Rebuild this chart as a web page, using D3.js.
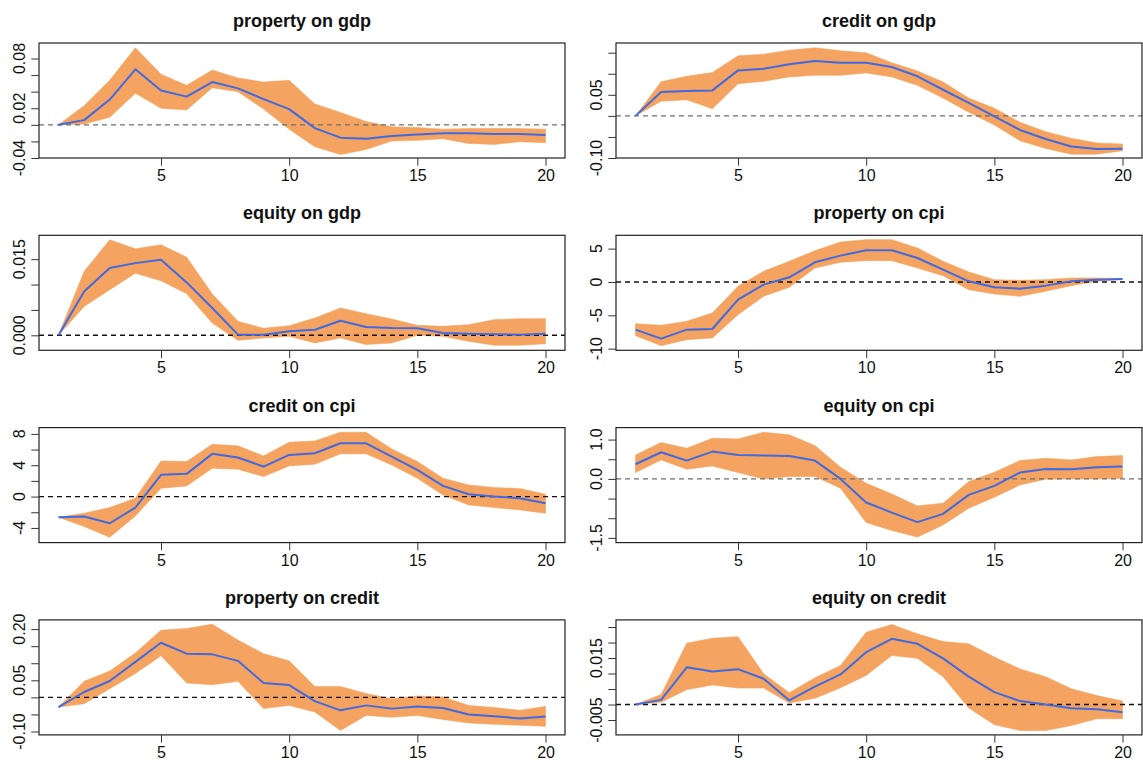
<!DOCTYPE html>
<html lang="en">
  <head>
    <meta charset="UTF-8" />
    <title>Impulse responses</title>
    <script src="https://cdn.jsdelivr.net/npm/d3@7"></script>
    <style>
      body { margin: 0; background: #fff; }
      svg { display: block; font-family: "Liberation Sans", Arial, sans-serif; }
    </style>
  </head>
  <body>
    <div id="main-div"></div>
    <script>
      const steps = d3.range(1, 21);
      const xTicks = [5, 10, 15, 20];

      // property on gdp
      const propGdpMid = [0, 0.0057, 0.0305, 0.067, 0.0415, 0.034, 0.0516, 0.044, 0.031, 0.019, -0.004, -0.0155, -0.0167, -0.0134, -0.0118, -0.0102, -0.0102, -0.011, -0.011, -0.0122];
      const propGdpHi = [0, 0.023, 0.0537, 0.093, 0.061, 0.0476, 0.066, 0.0565, 0.0516, 0.0537, 0.0252, 0.015, 0.004, -0.0024, -0.0033, -0.0053, -0.0045, -0.0045, -0.0045, -0.0053];
      const propGdpLo = [0, 0.001, 0.009, 0.038, 0.02, 0.018, 0.0447, 0.04, 0.019, -0.0053, -0.0264, -0.0358, -0.0297, -0.0195, -0.0187, -0.0167, -0.0224, -0.0236, -0.0203, -0.0215];
      const propGdpTicks = [0.08, 0.06, 0.04, 0.02, 0, -0.02, -0.04];
      const propGdpLabels = ["0.08", "0.02", "-0.04"];

      // credit on gdp
      const credGdpMid = [0, 0.0565, 0.059, 0.0605, 0.108, 0.112, 0.1226, 0.13, 0.126, 0.126, 0.116, 0.094, 0.062, 0.031, -0.001, -0.0334, -0.055, -0.0725, -0.0788, -0.078];
      const credGdpHi = [0, 0.081, 0.094, 0.1027, 0.1425, 0.1465, 0.156, 0.1616, 0.1545, 0.1497, 0.126, 0.1067, 0.0804, 0.0422, 0.0183, -0.0151, -0.0374, -0.0533, -0.0645, -0.0669];
      const credGdpLo = [0, 0.035, 0.038, 0.0167, 0.0764, 0.082, 0.0924, 0.0963, 0.0963, 0.102, 0.0924, 0.0725, 0.0422, 0.0088, -0.0215, -0.059, -0.0772, -0.0908, -0.0908, -0.0828];
      const credGdpTicks = [0.15, 0.1, 0.05, 0, -0.05, -0.1];
      const credGdpLabels = ["0.05", "-0.10"];

      // equity on gdp
      const eqGdpMid = [0, 0.00865, 0.01324, 0.01422, 0.01488, 0.01042, 0.00537, 0.00013, 0.00013, 0.00079, 0.0011, 0.00288, 0.00164, 0.00144, 0.00138, 0.00046, 0.00033, 0.0002, 0.00013, 0.00033];
      const eqGdpHi = [0, 0.01258, 0.0188, 0.01704, 0.01782, 0.0154, 0.00813, 0.00275, 0.00138, 0.0019, 0.0034, 0.00537, 0.00426, 0.00321, 0.00197, 0.00177, 0.0021, 0.00308, 0.00328, 0.00328];
      const eqGdpLo = [0, 0.0057, 0.00898, 0.01225, 0.01075, 0.00819, 0.00242, -0.00098, -0.00052, -0.0002, -0.0015, -0.00052, -0.00183, -0.0015, 0, -0.0002, -0.00118, -0.00197, -0.00197, -0.00164];
      const eqGdpTicks = [0.015, 0.01, 0.005, 0];
      const eqGdpLabels = ["0.015", "0.000"];

      // property on cpi
      const propCpiMid = [-7.15, -8.5, -7.15, -7.05, -2.65, -0.4, 0.7, 2.95, 3.95, 4.75, 4.75, 3.6, 1.85, 0.1, -0.8, -1.0, -0.55, 0.1, 0.35, 0.45];
      const propCpiHi = [-6.25, -6.5, -5.9, -4.65, -0.65, 1.6, 3.1, 4.7, 6.0, 6.35, 6.35, 5.1, 3.1, 1.5, 0.35, 0.25, 0.35, 0.6, 0.6, 0.5];
      const propCpiLo = [-8.05, -9.55, -8.65, -8.4, -4.9, -2.15, -0.8, 2.1, 2.95, 3.2, 3.2, 2.1, 0.95, -1.15, -1.8, -2.15, -1.4, -0.55, 0.1, 0.4];
      const propCpiTicks = [5, 0, -5, -10];
      const propCpiLabels = ["5", "0", "-5", "-10"];

      // credit on cpi
      const credCpiMid = [-2.64, -2.55, -3.4, -1.4, 2.77, 2.9, 5.45, 4.98, 3.83, 5.32, 5.53, 6.8, 6.8, 5.1, 3.4, 1.36, 0.3, 0, -0.21, -0.85];
      const credCpiHi = [-2.64, -2.13, -1.4, -0.21, 4.55, 4.47, 6.68, 6.47, 5.19, 6.94, 7.1, 8.2, 8.2, 6.08, 4.47, 2.34, 1.49, 1.15, 1.02, 0.3];
      const credCpiLo = [-2.64, -3.83, -5.19, -2.47, 1.06, 1.36, 3.62, 3.49, 2.55, 3.91, 4.13, 5.45, 5.45, 4.04, 2.34, 0.21, -1.06, -1.4, -1.7, -2.13];
      const credCpiTicks = [8, 6, 4, 2, 0, -2, -4];
      const credCpiLabels = ["8", "4", "0", "-4"];

      // equity on cpi
      const eqCpiMid = [0.373, 0.678, 0.466, 0.695, 0.61, 0.593, 0.585, 0.466, 0, -0.6, -0.856, -1.1, -0.89, -0.407, -0.178, 0.161, 0.254, 0.246, 0.297, 0.314];
      const eqCpiHi = [0.61, 0.924, 0.78, 1.034, 1.017, 1.186, 1.12, 0.847, 0.297, -0.11, -0.381, -0.686, -0.619, -0.068, 0.17, 0.466, 0.525, 0.483, 0.568, 0.593];
      const eqCpiLo = [0.161, 0.483, 0.246, 0.33, 0.161, 0, 0.059, 0.059, -0.237, -1.11, -1.31, -1.48, -1.17, -0.746, -0.466, -0.153, -0.008, 0, 0, 0.017];
      const eqCpiTicks = [1, 0.5, 0, -0.5, -1, -1.5];
      const eqCpiLabels = ["1.0", "0.0", "-1.5"];

      // property on credit
      const propCredMid = [-0.0284, 0.0157, 0.048, 0.104, 0.16, 0.128, 0.126, 0.107, 0.042, 0.036, -0.011, -0.038, -0.0235, -0.033, -0.0265, -0.031, -0.05, -0.055, -0.062, -0.056];
      const propCredHi = [-0.0284, 0.047, 0.077, 0.13, 0.197, 0.202, 0.214, 0.168, 0.128, 0.107, 0.032, 0.032, 0.011, -0.004, 0.004, 0.001, -0.0235, -0.03, -0.038, -0.0265];
      const propCredLo = [-0.0284, -0.0186, 0.0255, 0.07, 0.122, 0.042, 0.037, 0.047, -0.033, -0.0235, -0.043, -0.097, -0.053, -0.058, -0.053, -0.065, -0.075, -0.079, -0.082, -0.085];
      const propCredTicks = [0.2, 0.15, 0.1, 0.05, 0, -0.05, -0.1];
      const propCredLabels = ["0.20", "0.05", "-0.10"];

      // equity on credit
      const eqCredMid = [0, 0.0015, 0.012, 0.01065, 0.0114, 0.0083, 0.0013, 0.0058, 0.0097, 0.0169, 0.0212, 0.0196, 0.0149, 0.009, 0.004, 0.0011, 0, -0.0012, -0.0015, -0.0025];
      const eqCredHi = [0, 0.0032, 0.0198, 0.0214, 0.0219, 0.0099, 0.0038, 0.0086, 0.0126, 0.0233, 0.0258, 0.0228, 0.0203, 0.0196, 0.0153, 0.0115, 0.009, 0.0051, 0.0029, 0.0011];
      const eqCredLo = [0, 0.00075, 0.0048, 0.0063, 0.0053, 0.0053, 0.0005, 0.002, 0.0054, 0.0094, 0.0158, 0.0149, 0.009, -0.0011, -0.0065, -0.0084, -0.0084, -0.0068, -0.0046, -0.0046];
      const eqCredTicks = [0.025, 0.02, 0.015, 0.01, 0.005, 0, -0.005];
      const eqCredLabels = ["0.015", "-0.005"];

      const panels = [
        { title: "property on gdp", mid: propGdpMid, lo: propGdpLo, hi: propGdpHi, ticks: propGdpTicks, labels: propGdpLabels, ylim: [-0.04, 0.0987], zero: "#6e6e6e" },
        { title: "credit on gdp", mid: credGdpMid, lo: credGdpLo, hi: credGdpHi, ticks: credGdpTicks, labels: credGdpLabels, ylim: [-0.1, 0.173], zero: "#6e6e6e" },
        { title: "equity on gdp", mid: eqGdpMid, lo: eqGdpLo, hi: eqGdpHi, ticks: eqGdpTicks, labels: eqGdpLabels, ylim: [-0.00295, 0.0197], zero: "#111" },
        { title: "property on cpi", mid: propCpiMid, lo: propCpiLo, hi: propCpiHi, ticks: propCpiTicks, labels: propCpiLabels, ylim: [-10.25, 7.0], zero: "#111" },
        { title: "credit on cpi", mid: credCpiMid, lo: credCpiLo, hi: credCpiHi, ticks: credCpiTicks, labels: credCpiLabels, ylim: [-5.87, 8.8], zero: "#111" },
        { title: "equity on cpi", mid: eqCpiMid, lo: eqCpiLo, hi: eqCpiHi, ticks: eqCpiTicks, labels: eqCpiLabels, ylim: [-1.62, 1.305], zero: "#6e6e6e" },
        { title: "property on credit", mid: propCredMid, lo: propCredLo, hi: propCredHi, ticks: propCredTicks, labels: propCredLabels, ylim: [-0.11, 0.227], zero: "#111" },
        { title: "equity on credit", mid: eqCredMid, lo: eqCredLo, hi: eqCredHi, ticks: eqCredTicks, labels: eqCredLabels, ylim: [-0.0098, 0.0273], zero: "#111" },
      ];

      let width = 1143;
      let height = 760;
      let boxW = 526;
      let boxH = 115;
      let colLeft = [39, 616];
      let rowTop = 43;
      let rowStep = 192.3;
      let tickLen = 7.7;

      let svg = d3
        .select("#main-div")
        .append("svg")
        .attr("width", width)
        .attr("height", height)
        .style("background-color", "#fff");

      panels.forEach((p, i) => {
        let left = colLeft[i % 2];
        let top = rowTop + Math.floor(i / 2) * rowStep;

        let g = svg.append("g").attr("transform", "translate(" + left + "," + top + ")");

        //R style axis range: 4% padding on each side
        let x = d3.scaleLinear().domain([0.24, 20.76]).range([0, boxW]);
        let y = d3.scaleLinear().domain(p.ylim).range([boxH, 0]);

        let data = steps.map((s, k) => ({ s: s, mid: p.mid[k], lo: p.lo[k], hi: p.hi[k] }));

        //confidence band
        let band = d3
          .area()
          .x((d) => x(d.s))
          .y0((d) => y(d.lo))
          .y1((d) => y(d.hi));
        g.append("path")
          .datum(data)
          .attr("d", band)
          .attr("fill", "#f4a460")
          .attr("stroke", "#f4a460")
          .attr("stroke-width", 0.6);

        //zero line
        g.append("line")
          .attr("x1", 0)
          .attr("x2", boxW)
          .attr("y1", y(0))
          .attr("y2", y(0))
          .attr("stroke", p.zero)
          .attr("stroke-width", 1.4)
          .attr("stroke-dasharray", "5,4");

        //point estimate
        let line = d3
          .line()
          .x((d) => x(d.s))
          .y((d) => y(d.mid));
        g.append("path")
          .datum(data)
          .attr("d", line)
          .attr("fill", "none")
          .attr("stroke", "#4169e1")
          .attr("stroke-width", 2)
          .attr("stroke-linejoin", "round");

        //box
        g.append("rect")
          .attr("x", 0)
          .attr("y", 0)
          .attr("width", boxW)
          .attr("height", boxH)
          .attr("fill", "none")
          .attr("stroke", "#222")
          .attr("stroke-width", 1.2);

        //x axis
        let xa = g
          .append("g")
          .attr("transform", "translate(0," + boxH + ")")
          .call(d3.axisBottom(x).tickValues(xTicks).tickSize(tickLen).tickPadding(4));
        xa.select(".domain").remove();
        xa.selectAll("line").attr("stroke", "#333");
        xa.selectAll("text")
          .attr("fill", "#111")
          .style("font-size", "16px")
          .style("font-family", "Liberation Sans, Arial, sans-serif");

        //y axis, labels drawn rotated like R
        let ya = g.append("g").call(d3.axisLeft(y).tickValues(p.ticks).tickSize(tickLen).tickFormat(""));
        ya.select(".domain").remove();
        ya.selectAll("line").attr("stroke", "#333");
        g.selectAll(".ylab")
          .data(p.labels)
          .enter()
          .append("text")
          .attr("class", "ylab")
          .attr("transform", (d) => "translate(-14," + y(+d) + ") rotate(-90)")
          .attr("text-anchor", "middle")
          .attr("fill", "#111")
          .style("font-size", "16px")
          .text((d) => d);

        //title
        g.append("text")
          .attr("x", boxW / 2)
          .attr("y", -16)
          .attr("text-anchor", "middle")
          .attr("fill", "#111")
          .style("font-size", "18px")
          .style("font-weight", "bold")
          .text(p.title);
      });
    </script>
  </body>
</html>
